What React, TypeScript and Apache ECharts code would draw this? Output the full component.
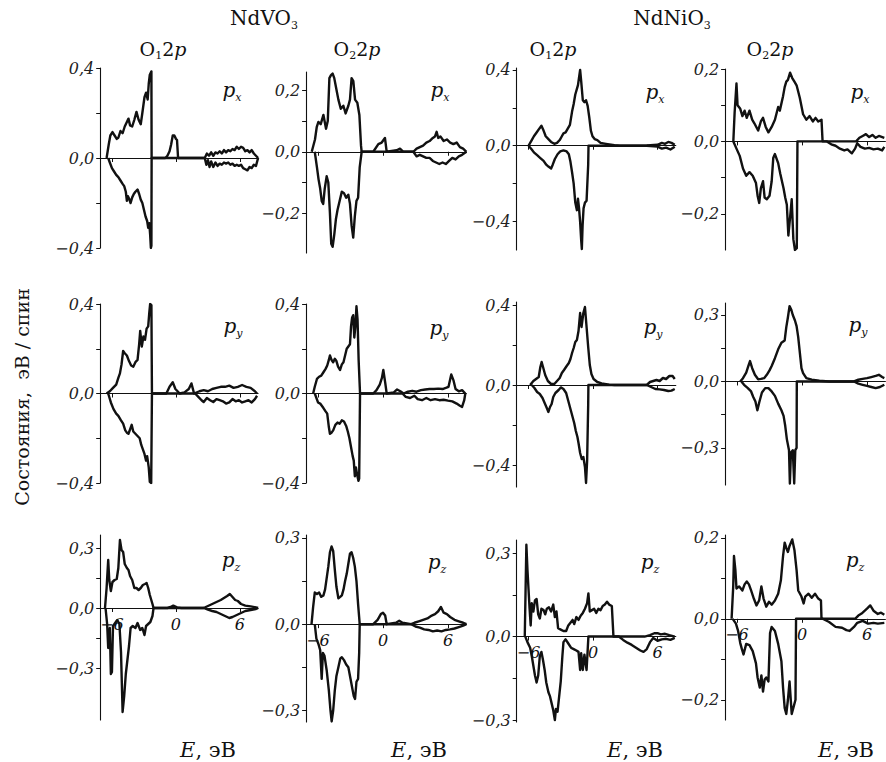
import React, { useEffect, useRef } from "react";
import * as echarts from "echarts";

// ---------- DATA: [energy (eV), states (eV/spin)] ----------
// Row 1: p_x
const vo_o1_px_up = [[-6.5,0],[-6.3,0.06],[-6.15,0.1],[-5.95,0.115],[-5.75,0.1],[-5.55,0.085],[-5.4,0.09],[-5.2,0.12],[-5.0,0.11],[-4.8,0.14],[-4.6,0.16],[-4.45,0.175],[-4.3,0.145],[-4.1,0.14],[-3.9,0.17],[-3.7,0.205],[-3.5,0.17],[-3.3,0.15],[-3.15,0.2],[-2.95,0.27],[-2.8,0.29],[-2.65,0.26],[-2.55,0.33],[-2.45,0.37],[-2.35,0.38],[-2.3,0.385],[-2.28,0],[-1.0,0],[-0.8,0.01],[-0.6,0.03],[-0.45,0.06],[-0.3,0.1],[-0.15,0.1],[0.0,0.085],[0.1,0.08],[0.2,0],[2.7,0],[2.9,0.02],[3.1,0.01],[3.3,0.025],[3.5,0.01],[3.7,0.025],[3.9,0.02],[4.1,0.03],[4.3,0.02],[4.5,0.035],[4.7,0.025],[4.9,0.035],[5.1,0.03],[5.3,0.04],[5.5,0.035],[5.7,0.05],[5.9,0.04],[6.1,0.05],[6.3,0.045],[6.5,0.03],[6.7,0.035],[6.9,0.025],[7.1,0.035],[7.3,0.02],[7.5,0.01],[7.7,0]];
const vo_o1_px_dn = [[-6.35,0],[-6.2,-0.02],[-6.0,-0.045],[-5.8,-0.06],[-5.6,-0.075],[-5.4,-0.085],[-5.2,-0.1],[-5.0,-0.115],[-4.85,-0.125],[-4.7,-0.15],[-4.6,-0.19],[-4.5,-0.17],[-4.4,-0.18],[-4.25,-0.2],[-4.1,-0.175],[-3.95,-0.16],[-3.8,-0.15],[-3.6,-0.14],[-3.45,-0.16],[-3.3,-0.185],[-3.15,-0.2],[-3.0,-0.23],[-2.85,-0.26],[-2.7,-0.28],[-2.6,-0.31],[-2.5,-0.29],[-2.42,-0.34],[-2.35,-0.4],[-2.3,-0.39],[-2.28,0],[2.7,0],[2.85,-0.03],[3.0,-0.01],[3.15,-0.04],[3.3,-0.015],[3.5,-0.04],[3.7,-0.02],[3.9,-0.035],[4.1,-0.025],[4.3,-0.03],[4.5,-0.02],[4.7,-0.025],[4.9,-0.02],[5.1,-0.03],[5.3,-0.025],[5.5,-0.035],[5.7,-0.03],[5.9,-0.035],[6.1,-0.03],[6.3,-0.045],[6.5,-0.05],[6.7,-0.055],[6.9,-0.04],[7.1,-0.045],[7.3,-0.03],[7.5,-0.035],[7.7,0]];
const vo_o2_px_up = [[-6.58,0],[-6.28,0.04],[-6.12,0.08],[-5.97,0.097],[-5.75,0.09],[-5.5,0.12],[-5.26,0.075],[-5.1,0.1],[-4.95,0.24],[-4.8,0.25],[-4.65,0.255],[-4.5,0.24],[-4.34,0.21],[-4.12,0.17],[-3.9,0.14],[-3.66,0.15],[-3.45,0.125],[-3.2,0.15],[-3.05,0.17],[-2.9,0.24],[-2.74,0.23],[-2.58,0.17],[-2.37,0.16],[-2.18,0.12],[-2.03,0.02],[-1.97,0],[-0.9,0],[-0.43,0.025],[-0.12,0.03],[0.18,0.045],[0.34,0],[1.26,0.005],[1.57,0.01],[1.88,0],[2.8,0],[3.1,0.01],[3.4,0.015],[3.7,0.02],[4.0,0.03],[4.3,0.035],[4.6,0.045],[4.8,0.05],[4.95,0.065],[5.1,0.045],[5.3,0.05],[5.6,0.035],[5.9,0.04],[6.2,0.03],[6.5,0.025],[6.8,0.03],[7.1,0.015],[7.4,0.01],[7.7,0]];
const vo_o2_px_dn = [[-6.3,0],[-6.1,-0.05],[-5.95,-0.09],[-5.8,-0.12],[-5.66,-0.16],[-5.52,-0.17],[-5.38,-0.12],[-5.2,-0.08],[-5.05,-0.1],[-4.9,-0.2],[-4.78,-0.3],[-4.65,-0.31],[-4.5,-0.27],[-4.35,-0.22],[-4.2,-0.19],[-4.0,-0.16],[-3.8,-0.13],[-3.6,-0.135],[-3.4,-0.15],[-3.2,-0.14],[-3.05,-0.17],[-2.9,-0.24],[-2.75,-0.28],[-2.6,-0.21],[-2.45,-0.16],[-2.3,-0.15],[-2.15,-0.05],[-1.97,0],[2.8,0],[3.1,-0.015],[3.4,-0.01],[3.7,-0.015],[4.0,-0.02],[4.3,-0.02],[4.6,-0.03],[4.9,-0.035],[5.2,-0.04],[5.5,-0.035],[5.8,-0.04],[6.1,-0.03],[6.4,-0.02],[6.7,-0.025],[7.0,-0.015],[7.3,-0.01],[7.7,0]];
const ni_o1_px_up = [[-6.0,0],[-5.7,0.03],[-5.5,0.05],[-5.25,0.07],[-5.0,0.09],[-4.8,0.105],[-4.6,0.08],[-4.4,0.05],[-4.15,0.035],[-3.9,0.02],[-3.6,0.01],[-3.35,0.015],[-3.1,0.03],[-2.9,0.05],[-2.75,0.065],[-2.55,0.07],[-2.35,0.09],[-2.15,0.11],[-1.95,0.18],[-1.8,0.22],[-1.65,0.27],[-1.5,0.3],[-1.4,0.32],[-1.3,0.36],[-1.2,0.4],[-1.1,0.34],[-0.95,0.24],[-0.8,0.23],[-0.65,0.24],[-0.5,0.21],[-0.35,0.15],[-0.2,0.08],[-0.05,0.05],[0.15,0.035],[0.4,0.03],[0.7,0.015],[1.2,0.01],[2.0,0.003],[2.5,0],[5.0,0.002],[6.0,0.005],[6.4,0.015],[6.7,0.01],[7.0,0.02],[7.3,0.015],[7.6,0.005]];
const ni_o1_px_dn = [[-6.0,0],[-5.7,-0.02],[-5.5,-0.035],[-5.2,-0.05],[-4.9,-0.065],[-4.6,-0.08],[-4.35,-0.1],[-4.15,-0.11],[-3.9,-0.12],[-3.75,-0.1],[-3.55,-0.07],[-3.3,-0.045],[-3.05,-0.03],[-2.75,-0.025],[-2.45,-0.03],[-2.25,-0.045],[-2.1,-0.085],[-1.95,-0.14],[-1.8,-0.2],[-1.65,-0.3],[-1.5,-0.34],[-1.4,-0.28],[-1.3,-0.33],[-1.2,-0.4],[-1.1,-0.5],[-1.04,-0.545],[-0.97,-0.42],[-0.88,-0.33],[-0.75,-0.3],[-0.6,-0.29],[-0.45,-0.1],[-0.42,0],[5.0,0],[6.0,-0.005],[6.4,-0.015],[6.8,-0.01],[7.2,-0.02],[7.6,-0.005]];
const ni_o2_px_up = [[-6.34,0],[-6.22,0.08],[-6.05,0.16],[-5.95,0.1],[-5.7,0.09],[-5.5,0.07],[-5.3,0.085],[-5.1,0.065],[-4.85,0.085],[-4.6,0.06],[-4.4,0.05],[-4.05,0.03],[-3.8,0.055],[-3.6,0.065],[-3.35,0.04],[-3.1,0.025],[-2.8,0.04],[-2.5,0.06],[-2.2,0.095],[-2.05,0.085],[-1.75,0.125],[-1.6,0.15],[-1.45,0.165],[-1.3,0.17],[-1.1,0.19],[-0.9,0.175],[-0.7,0.165],[-0.5,0.155],[-0.2,0.12],[0.1,0.075],[0.4,0.06],[0.7,0.07],[1.0,0.055],[1.25,0.065],[1.5,0.055],[1.8,0.06],[1.9,0],[5.0,0],[5.3,0.01],[5.6,0.015],[5.9,0.02],[6.2,0.012],[6.5,0.018],[6.8,0.01],[7.1,0.015],[7.6,0.01]];
const ni_o2_px_dn = [[-6.34,0],[-6.05,-0.02],[-5.75,-0.04],[-5.45,-0.075],[-5.15,-0.095],[-4.85,-0.085],[-4.55,-0.095],[-4.25,-0.115],[-4.1,-0.15],[-3.95,-0.17],[-3.8,-0.13],[-3.6,-0.11],[-3.45,-0.155],[-3.25,-0.16],[-3.0,-0.15],[-2.8,-0.11],[-2.65,-0.045],[-2.5,-0.035],[-2.2,-0.06],[-2.0,-0.09],[-1.7,-0.13],[-1.55,-0.155],[-1.4,-0.175],[-1.26,-0.26],[-1.1,-0.21],[-0.95,-0.16],[-0.8,-0.27],[-0.65,-0.3],[-0.48,-0.295],[-0.42,0],[2.3,0],[2.7,-0.008],[3.1,-0.012],[3.5,-0.02],[3.9,-0.025],[4.2,-0.022],[4.6,-0.033],[4.9,-0.02],[5.1,-0.005],[5.4,-0.015],[5.8,-0.02],[6.2,-0.018],[6.6,-0.022],[7.0,-0.02],[7.4,-0.025],[7.6,-0.015]];
// Row 2: p_y
const vo_o1_py_up = [[-6.5,0],[-6.2,0.01],[-5.9,0.025],[-5.6,0.04],[-5.4,0.07],[-5.25,0.09],[-5.1,0.13],[-4.95,0.19],[-4.8,0.18],[-4.6,0.17],[-4.4,0.145],[-4.2,0.125],[-4.0,0.12],[-3.8,0.14],[-3.6,0.15],[-3.45,0.22],[-3.35,0.28],[-3.2,0.21],[-3.05,0.255],[-2.9,0.24],[-2.75,0.29],[-2.6,0.3],[-2.5,0.36],[-2.42,0.4],[-2.3,0.395],[-2.25,0],[-0.9,0],[-0.6,0.03],[-0.3,0.05],[-0.05,0.02],[0.35,0],[0.8,0.005],[1.2,0.02],[1.45,0.045],[1.7,0.0],[2.2,0.01],[2.6,0.015],[3.0,0.01],[3.4,0.02],[3.8,0.025],[4.2,0.03],[4.6,0.03],[5.0,0.035],[5.4,0.025],[5.8,0.03],[6.2,0.038],[6.6,0.03],[7.0,0.025],[7.4,0.01],[7.6,0]];
const vo_o1_py_dn = [[-6.35,0],[-6.1,-0.04],[-5.85,-0.07],[-5.6,-0.09],[-5.4,-0.1],[-5.15,-0.12],[-4.95,-0.135],[-4.75,-0.165],[-4.6,-0.175],[-4.45,-0.18],[-4.3,-0.16],[-4.15,-0.14],[-4.0,-0.17],[-3.8,-0.18],[-3.6,-0.19],[-3.4,-0.2],[-3.25,-0.23],[-3.1,-0.25],[-2.95,-0.27],[-2.8,-0.3],[-2.7,-0.28],[-2.55,-0.33],[-2.45,-0.395],[-2.32,-0.4],[-2.25,0],[1.8,0],[2.1,-0.015],[2.4,-0.03],[2.6,-0.038],[2.9,-0.02],[3.2,-0.03],[3.5,-0.038],[3.8,-0.025],[4.1,-0.03],[4.4,-0.035],[4.7,-0.045],[5.0,-0.04],[5.3,-0.025],[5.6,-0.035],[5.9,-0.03],[6.2,-0.04],[6.5,-0.035],[6.8,-0.03],[7.1,-0.04],[7.4,-0.025],[7.6,-0.01]];
const vo_o2_py_up = [[-6.45,0],[-6.3,0.03],[-6.1,0.065],[-5.9,0.075],[-5.7,0.08],[-5.5,0.095],[-5.3,0.11],[-5.15,0.125],[-5.0,0.15],[-4.9,0.17],[-4.75,0.15],[-4.6,0.14],[-4.45,0.155],[-4.3,0.145],[-4.15,0.12],[-3.97,0.105],[-3.8,0.13],[-3.65,0.14],[-3.5,0.17],[-3.35,0.2],[-3.2,0.21],[-3.05,0.22],[-2.95,0.3],[-2.85,0.34],[-2.75,0.35],[-2.65,0.25],[-2.55,0.3],[-2.45,0.39],[-2.35,0.33],[-2.25,0.15],[-2.12,0],[-0.9,0],[-0.6,0.015],[-0.3,0.04],[-0.1,0.07],[0.03,0.105],[0.2,0.05],[0.34,0],[1.0,0.005],[1.3,0.018],[1.6,0.01],[1.9,0.0],[2.3,0.008],[2.7,0.012],[3.1,0.008],[3.5,0.015],[3.9,0.018],[4.3,0.02],[4.7,0.02],[5.1,0.022],[5.5,0.02],[5.8,0.025],[6.05,0.03],[6.3,0.085],[6.5,0.06],[6.7,0.02],[7.0,0.01],[7.3,0.015],[7.6,0]];
const vo_o2_py_dn = [[-6.3,0],[-6.0,-0.04],[-5.8,-0.045],[-5.5,-0.065],[-5.3,-0.08],[-5.15,-0.09],[-5.0,-0.15],[-4.9,-0.18],[-4.75,-0.175],[-4.6,-0.165],[-4.4,-0.14],[-4.2,-0.13],[-4.0,-0.135],[-3.8,-0.12],[-3.6,-0.125],[-3.4,-0.145],[-3.25,-0.17],[-3.1,-0.2],[-2.95,-0.24],[-2.8,-0.28],[-2.7,-0.3],[-2.6,-0.37],[-2.5,-0.33],[-2.4,-0.36],[-2.27,-0.39],[-2.2,-0.38],[-2.12,0],[1.8,0],[2.1,-0.015],[2.5,-0.02],[2.9,-0.01],[3.2,-0.025],[3.6,-0.03],[4.0,-0.02],[4.4,-0.03],[4.8,-0.025],[5.2,-0.03],[5.6,-0.028],[6.0,-0.032],[6.4,-0.035],[6.8,-0.045],[7.1,-0.055],[7.3,-0.06],[7.5,-0.03],[7.6,0]];
const ni_o1_py_up = [[-5.85,0],[-5.55,0.02],[-5.3,0.03],[-5.05,0.04],[-4.9,0.09],[-4.78,0.115],[-4.6,0.08],[-4.45,0.05],[-4.2,0.02],[-3.9,0.005],[-3.6,0.005],[-3.35,0.02],[-3.1,0.035],[-2.9,0.06],[-2.7,0.075],[-2.45,0.095],[-2.25,0.11],[-2.1,0.13],[-1.95,0.16],[-1.8,0.185],[-1.65,0.215],[-1.5,0.225],[-1.35,0.27],[-1.2,0.36],[-1.07,0.29],[-0.9,0.36],[-0.75,0.39],[-0.6,0.29],[-0.45,0.19],[-0.3,0.1],[-0.15,0.055],[0.05,0.03],[0.4,0.015],[0.8,0.008],[1.5,0.002],[2.0,0],[5.0,0],[5.3,0.015],[5.6,0.02],[5.9,0.025],[6.2,0.02],[6.5,0.035],[6.8,0.03],[7.1,0.045],[7.4,0.045],[7.6,0.03]];
const ni_o1_py_dn = [[-5.7,0],[-5.45,-0.015],[-5.2,-0.035],[-4.95,-0.045],[-4.7,-0.065],[-4.5,-0.09],[-4.3,-0.115],[-4.15,-0.135],[-4.0,-0.11],[-3.85,-0.095],[-3.7,-0.06],[-3.5,-0.04],[-3.2,-0.025],[-3.0,-0.012],[-2.75,-0.02],[-2.5,-0.04],[-2.3,-0.08],[-2.1,-0.12],[-1.95,-0.15],[-1.75,-0.19],[-1.6,-0.23],[-1.45,-0.26],[-1.35,-0.29],[-1.2,-0.34],[-1.05,-0.37],[-0.9,-0.36],[-0.75,-0.41],[-0.65,-0.49],[-0.55,-0.38],[-0.45,-0.1],[-0.43,0],[5.0,0],[5.4,-0.01],[5.8,-0.02],[6.2,-0.022],[6.6,-0.025],[7.0,-0.03],[7.3,-0.028],[7.6,-0.02]];
const ni_o2_py_up = [[-5.7,0],[-5.45,0.015],[-5.15,0.04],[-4.95,0.07],[-4.8,0.092],[-4.6,0.06],[-4.35,0.03],[-4.05,0.01],[-3.8,0.012],[-3.5,0.015],[-3.25,0.03],[-3.0,0.05],[-2.8,0.07],[-2.5,0.105],[-2.2,0.145],[-1.9,0.175],[-1.6,0.185],[-1.45,0.245],[-1.3,0.29],[-1.15,0.34],[-1.0,0.325],[-0.85,0.3],[-0.65,0.275],[-0.5,0.25],[-0.35,0.2],[-0.2,0.13],[-0.05,0.06],[0.1,0.038],[0.4,0.015],[0.9,0.008],[1.6,0.003],[2.5,0],[4.8,0],[5.2,0.008],[5.6,0.012],[6.0,0.015],[6.4,0.02],[6.8,0.025],[7.1,0.03],[7.4,0.02],[7.6,0.015]];
const ni_o2_py_dn = [[-5.6,0],[-5.35,-0.015],[-5.0,-0.03],[-4.7,-0.045],[-4.5,-0.07],[-4.3,-0.09],[-4.12,-0.13],[-3.95,-0.095],[-3.7,-0.05],[-3.4,-0.03],[-3.1,-0.03],[-2.8,-0.045],[-2.5,-0.065],[-2.2,-0.1],[-1.9,-0.13],[-1.7,-0.155],[-1.55,-0.2],[-1.4,-0.26],[-1.2,-0.31],[-1.12,-0.46],[-1.02,-0.32],[-0.85,-0.31],[-0.72,-0.46],[-0.62,-0.31],[-0.5,-0.3],[-0.48,0],[4.8,0],[5.2,-0.01],[5.6,-0.015],[6.0,-0.02],[6.4,-0.025],[6.8,-0.03],[7.2,-0.025],[7.6,-0.015]];
// Row 3: p_z
const vo_o1_pz_up = [[-6.65,0],[-6.5,0.1],[-6.35,0.24],[-6.25,0.14],[-6.1,0.085],[-5.95,0.13],[-5.75,0.14],[-5.55,0.145],[-5.4,0.2],[-5.25,0.34],[-5.1,0.29],[-4.95,0.28],[-4.8,0.22],[-4.6,0.2],[-4.45,0.19],[-4.3,0.16],[-4.1,0.14],[-3.9,0.1],[-3.7,0.1],[-3.5,0.09],[-3.3,0.1],[-3.1,0.115],[-2.9,0.12],[-2.75,0.125],[-2.6,0.1],[-2.45,0.065],[-2.2,0.02],[-2.1,0],[-0.8,0],[-0.5,0.005],[-0.25,0.012],[0.1,0.003],[0.5,0],[2.6,0],[3.0,0.01],[3.4,0.02],[3.8,0.03],[4.2,0.04],[4.5,0.05],[4.8,0.06],[5.05,0.07],[5.3,0.055],[5.55,0.04],[5.8,0.035],[6.1,0.02],[6.5,0.012],[7.0,0.008],[7.5,0.003],[7.7,0]];
const vo_o1_pz_dn = [[-6.6,0],[-6.45,-0.08],[-6.35,-0.2],[-6.2,-0.1],[-6.1,-0.33],[-6.0,-0.32],[-5.9,-0.09],[-5.7,-0.075],[-5.5,-0.06],[-5.3,-0.08],[-5.15,-0.22],[-5.0,-0.52],[-4.85,-0.44],[-4.7,-0.33],[-4.55,-0.26],[-4.4,-0.19],[-4.25,-0.1],[-4.05,-0.09],[-3.8,-0.1],[-3.6,-0.075],[-3.35,-0.11],[-3.15,-0.1],[-2.95,-0.135],[-2.8,-0.09],[-2.6,-0.08],[-2.4,-0.07],[-2.2,-0.04],[-2.1,0],[2.6,0],[3.0,-0.008],[3.4,-0.015],[3.8,-0.02],[4.2,-0.03],[4.6,-0.04],[5.0,-0.05],[5.3,-0.045],[5.7,-0.035],[6.1,-0.025],[6.5,-0.015],[7.0,-0.01],[7.5,-0.005],[7.7,0]];
const vo_o2_pz_up = [[-6.6,0],[-6.45,0.06],[-6.3,0.11],[-6.1,0.105],[-5.9,0.11],[-5.7,0.095],[-5.5,0.1],[-5.35,0.12],[-5.2,0.16],[-5.05,0.2],[-4.9,0.25],[-4.75,0.27],[-4.6,0.255],[-4.45,0.19],[-4.3,0.13],[-4.12,0.09],[-3.95,0.095],[-3.8,0.1],[-3.65,0.12],[-3.5,0.15],[-3.35,0.175],[-3.2,0.21],[-3.05,0.245],[-2.9,0.25],[-2.75,0.23],[-2.6,0.2],[-2.45,0.15],[-2.3,0.07],[-2.15,0],[-0.9,0],[-0.5,0.015],[-0.2,0.035],[0.0,0.04],[0.2,0.03],[0.34,0],[1.2,0.005],[1.5,0.012],[1.8,0.005],[2.6,0],[2.9,0.005],[3.3,0.01],[3.7,0.015],[4.1,0.02],[4.5,0.03],[4.8,0.035],[5.1,0.045],[5.35,0.06],[5.6,0.04],[5.9,0.035],[6.2,0.025],[6.6,0.015],[7.0,0.01],[7.4,0.005],[7.7,0]];
const vo_o2_pz_dn = [[-6.3,0],[-6.15,-0.05],[-5.95,-0.07],[-5.8,-0.09],[-5.66,-0.19],[-5.55,-0.1],[-5.4,-0.11],[-5.2,-0.16],[-5.0,-0.23],[-4.85,-0.3],[-4.74,-0.338],[-4.6,-0.3],[-4.45,-0.23],[-4.3,-0.18],[-4.12,-0.15],[-3.95,-0.12],[-3.8,-0.115],[-3.6,-0.125],[-3.4,-0.14],[-3.2,-0.15],[-3.0,-0.19],[-2.85,-0.22],[-2.7,-0.25],[-2.58,-0.26],[-2.45,-0.2],[-2.3,-0.19],[-2.2,-0.1],[-2.15,0],[2.6,0],[3.0,-0.008],[3.4,-0.012],[3.8,-0.018],[4.2,-0.02],[4.6,-0.025],[5.0,-0.022],[5.4,-0.025],[5.8,-0.02],[6.2,-0.018],[6.6,-0.015],[7.0,-0.01],[7.4,-0.005],[7.7,0]];
const ni_o1_pz_up = [[-6.35,0],[-6.2,0.33],[-6.1,0.24],[-6.0,0.17],[-5.9,0.1],[-5.8,0.04],[-5.7,0.12],[-5.55,0.09],[-5.4,0.13],[-5.25,0.135],[-5.1,0.08],[-4.95,0.065],[-4.8,0.1],[-4.6,0.095],[-4.45,0.08],[-4.3,0.1],[-4.1,0.105],[-3.9,0.09],[-3.7,0.115],[-3.55,0.07],[-3.4,0.09],[-3.25,0.03],[-3.0,0.025],[-2.75,0.02],[-2.5,0.02],[-2.3,0.04],[-2.1,0.05],[-1.9,0.06],[-1.75,0.045],[-1.55,0.07],[-1.35,0.06],[-1.15,0.075],[-0.95,0.085],[-0.75,0.1],[-0.55,0.12],[-0.43,0.155],[-0.3,0.09],[-0.1,0.095],[0.1,0.1],[0.3,0.085],[0.5,0.1],[0.7,0.095],[0.9,0.11],[1.1,0.115],[1.3,0.125],[1.5,0.115],[1.75,0.11],[1.9,0],[4.8,0],[5.3,0.005],[5.7,0.012],[6.0,0.012],[6.3,0.008],[6.7,0.01],[7.1,0.005],[7.6,0]];
const ni_o1_pz_dn = [[-6.3,0],[-6.1,-0.02],[-5.85,-0.04],[-5.7,-0.07],[-5.55,-0.105],[-5.4,-0.14],[-5.25,-0.165],[-5.1,-0.14],[-4.95,-0.07],[-4.8,-0.055],[-4.65,-0.085],[-4.5,-0.12],[-4.35,-0.165],[-4.15,-0.2],[-4.0,-0.215],[-3.85,-0.24],[-3.7,-0.265],[-3.55,-0.3],[-3.45,-0.26],[-3.3,-0.27],[-3.15,-0.215],[-3.0,-0.16],[-2.85,-0.07],[-2.75,-0.02],[-2.55,-0.01],[-2.3,-0.025],[-2.05,-0.04],[-1.8,-0.045],[-1.55,-0.05],[-1.35,-0.055],[-1.2,-0.12],[-1.1,-0.06],[-0.95,-0.12],[-0.8,-0.065],[-0.6,-0.12],[-0.5,-0.05],[-0.43,0],[2.4,0],[2.8,-0.012],[3.2,-0.022],[3.6,-0.03],[4.0,-0.04],[4.4,-0.05],[4.7,-0.055],[5.0,-0.045],[5.3,-0.02],[5.6,-0.005],[6.0,-0.015],[6.4,-0.01],[6.8,-0.008],[7.2,-0.012],[7.6,-0.005]];
const ni_o2_pz_up = [[-6.5,0],[-6.35,0.08],[-6.28,0.155],[-6.15,0.12],[-6.05,0.075],[-5.8,0.08],[-5.5,0.07],[-5.3,0.085],[-5.1,0.092],[-4.9,0.085],[-4.7,0.07],[-4.45,0.05],[-4.2,0.033],[-3.95,0.046],[-3.75,0.08],[-3.55,0.05],[-3.3,0.03],[-3.05,0.042],[-2.8,0.035],[-2.5,0.045],[-2.2,0.062],[-1.95,0.095],[-1.75,0.155],[-1.6,0.188],[-1.45,0.175],[-1.3,0.165],[-1.15,0.18],[-0.9,0.196],[-0.7,0.17],[-0.5,0.12],[-0.35,0.07],[-0.05,0.055],[0.15,0.038],[0.3,0.055],[0.6,0.062],[0.9,0.052],[1.2,0.062],[1.5,0.05],[1.75,0.045],[1.8,0],[4.9,0],[5.2,0.008],[5.5,0.013],[5.8,0.02],[6.0,0.025],[6.3,0.033],[6.6,0.02],[7.0,0.012],[7.3,0.015],[7.6,0.01]];
const ni_o2_pz_dn = [[-6.4,0],[-6.1,-0.012],[-5.9,-0.03],[-5.7,-0.06],[-5.55,-0.075],[-5.4,-0.088],[-5.15,-0.062],[-4.85,-0.065],[-4.55,-0.08],[-4.25,-0.11],[-4.1,-0.145],[-3.9,-0.17],[-3.75,-0.14],[-3.6,-0.18],[-3.45,-0.15],[-3.3,-0.145],[-3.1,-0.155],[-2.95,-0.035],[-2.8,-0.02],[-2.5,-0.03],[-2.2,-0.062],[-1.9,-0.105],[-1.75,-0.17],[-1.6,-0.22],[-1.45,-0.235],[-1.3,-0.2],[-1.15,-0.155],[-0.95,-0.235],[-0.8,-0.22],[-0.6,-0.2],[-0.55,0],[1.9,0],[2.5,-0.008],[3.1,-0.02],[3.7,-0.022],[4.1,-0.028],[4.4,-0.03],[4.8,-0.02],[5.1,-0.01],[5.6,-0.005],[6.1,-0.012],[6.6,-0.01],[7.0,-0.012],[7.6,-0.01]];

const panelUp = [
  [vo_o1_px_up, vo_o2_px_up, ni_o1_px_up, ni_o2_px_up],
  [vo_o1_py_up, vo_o2_py_up, ni_o1_py_up, ni_o2_py_up],
  [vo_o1_pz_up, vo_o2_pz_up, ni_o1_pz_up, ni_o2_pz_up],
];
const panelDn = [
  [vo_o1_px_dn, vo_o2_px_dn, ni_o1_px_dn, ni_o2_px_dn],
  [vo_o1_py_dn, vo_o2_py_dn, ni_o1_py_dn, ni_o2_py_dn],
  [vo_o1_pz_dn, vo_o2_pz_dn, ni_o1_pz_dn, ni_o2_pz_dn],
];

// Axis ranges and tick labels
const energyMin = -7.1;
const energyMax = 7.7;
const energyTicks = [-6, 0, 6];
const yRanges = [
  [[-0.4, 0.4], [-0.33, 0.26], [-0.55, 0.41], [-0.3, 0.2]],
  [[-0.4, 0.4], [-0.4, 0.4], [-0.51, 0.415], [-0.467, 0.354]],
  [[-0.56, 0.365], [-0.34, 0.31], [-0.307, 0.347], [-0.25, 0.207]],
];
const yLabels = [
  [[-0.4, 0, 0.4], [-0.2, 0, 0.2], [-0.4, 0, 0.4], [-0.2, 0, 0.2]],
  [[-0.4, 0, 0.4], [-0.4, 0, 0.4], [-0.4, 0, 0.4], [-0.3, 0, 0.3]],
  [[-0.3, 0, 0.3], [-0.3, 0, 0.3], [-0.3, 0, 0.3], [-0.2, 0, 0.2]],
];
const compounds = ["NdVO", "NdNiO"];
const siteLabels = ["1", "2", "1", "2"];
const orbitals = ["x", "y", "z"];
const yTitle = "Состояния,  эВ / спин";
const xTitle = ", эВ";

// ---------- LAYOUT ----------
const COLS = [
  { left: 100.2, width: 157.9 },
  { left: 306.1, width: 160.3 },
  { left: 516.7, width: 159.1 },
  { left: 725.1, width: 160.3 },
];
const ROWS = [
  [{ top: 68, height: 180 }, { top: 72, height: 181 }, { top: 68, height: 182 }, { top: 69, height: 181 }],
  [{ top: 304, height: 179 }, { top: 304, height: 179 }, { top: 302, height: 185 }, { top: 303, height: 182 }],
  [{ top: 535, height: 185 }, { top: 535, height: 187 }, { top: 540, height: 182 }, { top: 535, height: 185 }],
];
const compoundPos = [{ x: 264, y: 18 }, { x: 672, y: 18 }];
const headerPos = [{ x: 163, y: 49 }, { x: 357, y: 49 }, { x: 553, y: 49 }, { x: 770, y: 49 }];
const orbPos = [
  [{ x: 232, y: 90 }, { x: 440, y: 90 }, { x: 655, y: 92 }, { x: 860, y: 92 }],
  [{ x: 233, y: 326 }, { x: 439, y: 328 }, { x: 653, y: 327 }, { x: 858, y: 325 }],
  [{ x: 231, y: 560 }, { x: 437, y: 562 }, { x: 650, y: 562 }, { x: 855, y: 560 }],
];
const xTitlePos = [208, 419, 635, 846];

const FONT = "DejaVu Serif";
const INK = "#111";

function fmt(v: number) {
  if (Math.abs(v) < 1e-9) return "0,0";
  const s = Math.abs(v).toFixed(1).replace(".", ",");
  return v < 0 ? "\u2212" + s : s;
}

function buildOption() {
  const grid: any[] = [];
  const xAxis: any[] = [];
  const yAxis: any[] = [];
  const series: any[] = [];
  for (let r = 0; r < 3; r++) {
    for (let c = 0; c < 4; c++) {
      const idx = r * 4 + c;
      const g = ROWS[r][c];
      const [ymin, ymax] = yRanges[r][c];
      const zeroFromBottom = (g.height * (0 - ymin)) / (ymax - ymin);
      grid.push({ left: COLS[c].left, width: COLS[c].width, top: g.top, height: g.height, containLabel: false });
      xAxis.push({
        type: "value", gridIndex: idx, min: energyMin, max: energyMax,
        position: "bottom", offset: -zeroFromBottom,
        axisLine: { onZero: false, lineStyle: { color: INK, width: 1.1 } },
        axisTick: { show: true, customValues: energyTicks, length: 4, lineStyle: { color: INK, width: 1 } },
        axisLabel: {
          show: r === 2, customValues: energyTicks, margin: 8,
          fontFamily: FONT, fontStyle: "italic", fontSize: 16, color: INK,
          formatter: (v: number) => (v < 0 ? "\u2212" + Math.abs(v) : String(v)),
        },
        splitLine: { show: false },
      });
      const labs = yLabels[r][c];
      const ticks = [labs[0], labs[0] / 2, 0, labs[2] / 2, labs[2]];
      yAxis.push({
        type: "value", gridIndex: idx, min: ymin, max: ymax,
        axisLine: { show: true, onZero: false, lineStyle: { color: INK, width: 1.1 } },
        axisTick: { show: true, customValues: ticks, length: 4, lineStyle: { color: INK, width: 1 } },
        axisLabel: {
          show: true, customValues: labs, margin: 6,
          fontFamily: FONT, fontStyle: "italic", fontSize: 16, color: "#222",
          formatter: (v: number) => fmt(v),
        },
        splitLine: { show: false },
      });
      for (const d of [panelUp[r][c], panelDn[r][c]]) {
        series.push({
          type: "line", xAxisIndex: idx, yAxisIndex: idx, data: d,
          showSymbol: false, symbol: "none", silent: true, z: 3,
          lineStyle: { color: INK, width: 2.4, join: "round" },
        });
      }
    }
  }

  const mkRich = (size: number) => ({
    a: { fontFamily: FONT, fontSize: size, fill: INK, lineHeight: size + 5 },
    i: { fontFamily: FONT, fontSize: size, fontStyle: "italic", fill: INK, lineHeight: size + 5 },
    s: { fontFamily: FONT, fontSize: 11, fill: INK, lineHeight: 11, verticalAlign: "bottom" },
    si: { fontFamily: FONT, fontSize: 11, fontStyle: "italic", fill: INK, lineHeight: 11, verticalAlign: "bottom" },
  });
  const txt = (x: number, y: number, text: string, size = 19) => ({
    type: "text", x, y, silent: true,
    style: { text, rich: mkRich(size), align: "center", verticalAlign: "middle", textAlign: "center", textVerticalAlign: "middle", fill: INK },
  });

  const graphic: any[] = [];
  compounds.forEach((cpd, k) => graphic.push(txt(compoundPos[k].x, compoundPos[k].y, `{a|${cpd}}{s|3}`, 20)));
  siteLabels.forEach((s, c) => graphic.push(txt(headerPos[c].x, headerPos[c].y, `{a|O}{s|${s}}{a|2}{i|p}`, 19)));
  for (let r = 0; r < 3; r++) {
    for (let c = 0; c < 4; c++) {
      graphic.push(txt(orbPos[r][c].x, orbPos[r][c].y, `{i|p}{si|${orbitals[r]}}`, 20));
    }
  }
  xTitlePos.forEach((x) => graphic.push(txt(x, 750, `{i|E}{a|${xTitle}}`, 21)));
  graphic.push({
    type: "text", x: 22, y: 397, rotation: Math.PI / 2, silent: true,
    style: { text: yTitle, fontFamily: FONT, fontSize: 19, fill: INK, align: "center", verticalAlign: "middle", textAlign: "center", textVerticalAlign: "middle" },
  });

  return { animation: false, backgroundColor: "#fff", grid, xAxis, yAxis, series, graphic };
}

export default function App() {
  const ref = useRef<HTMLDivElement>(null);
  useEffect(() => {
    if (!ref.current) return;
    const chart = echarts.init(ref.current, null, { renderer: "svg" });
    chart.setOption(buildOption() as any);
    return () => chart.dispose();
  }, []);
  return <div ref={ref} style={{ position: "absolute", left: 0, top: 0, width: 886, height: 762, background: "#fff" }} />;
}
